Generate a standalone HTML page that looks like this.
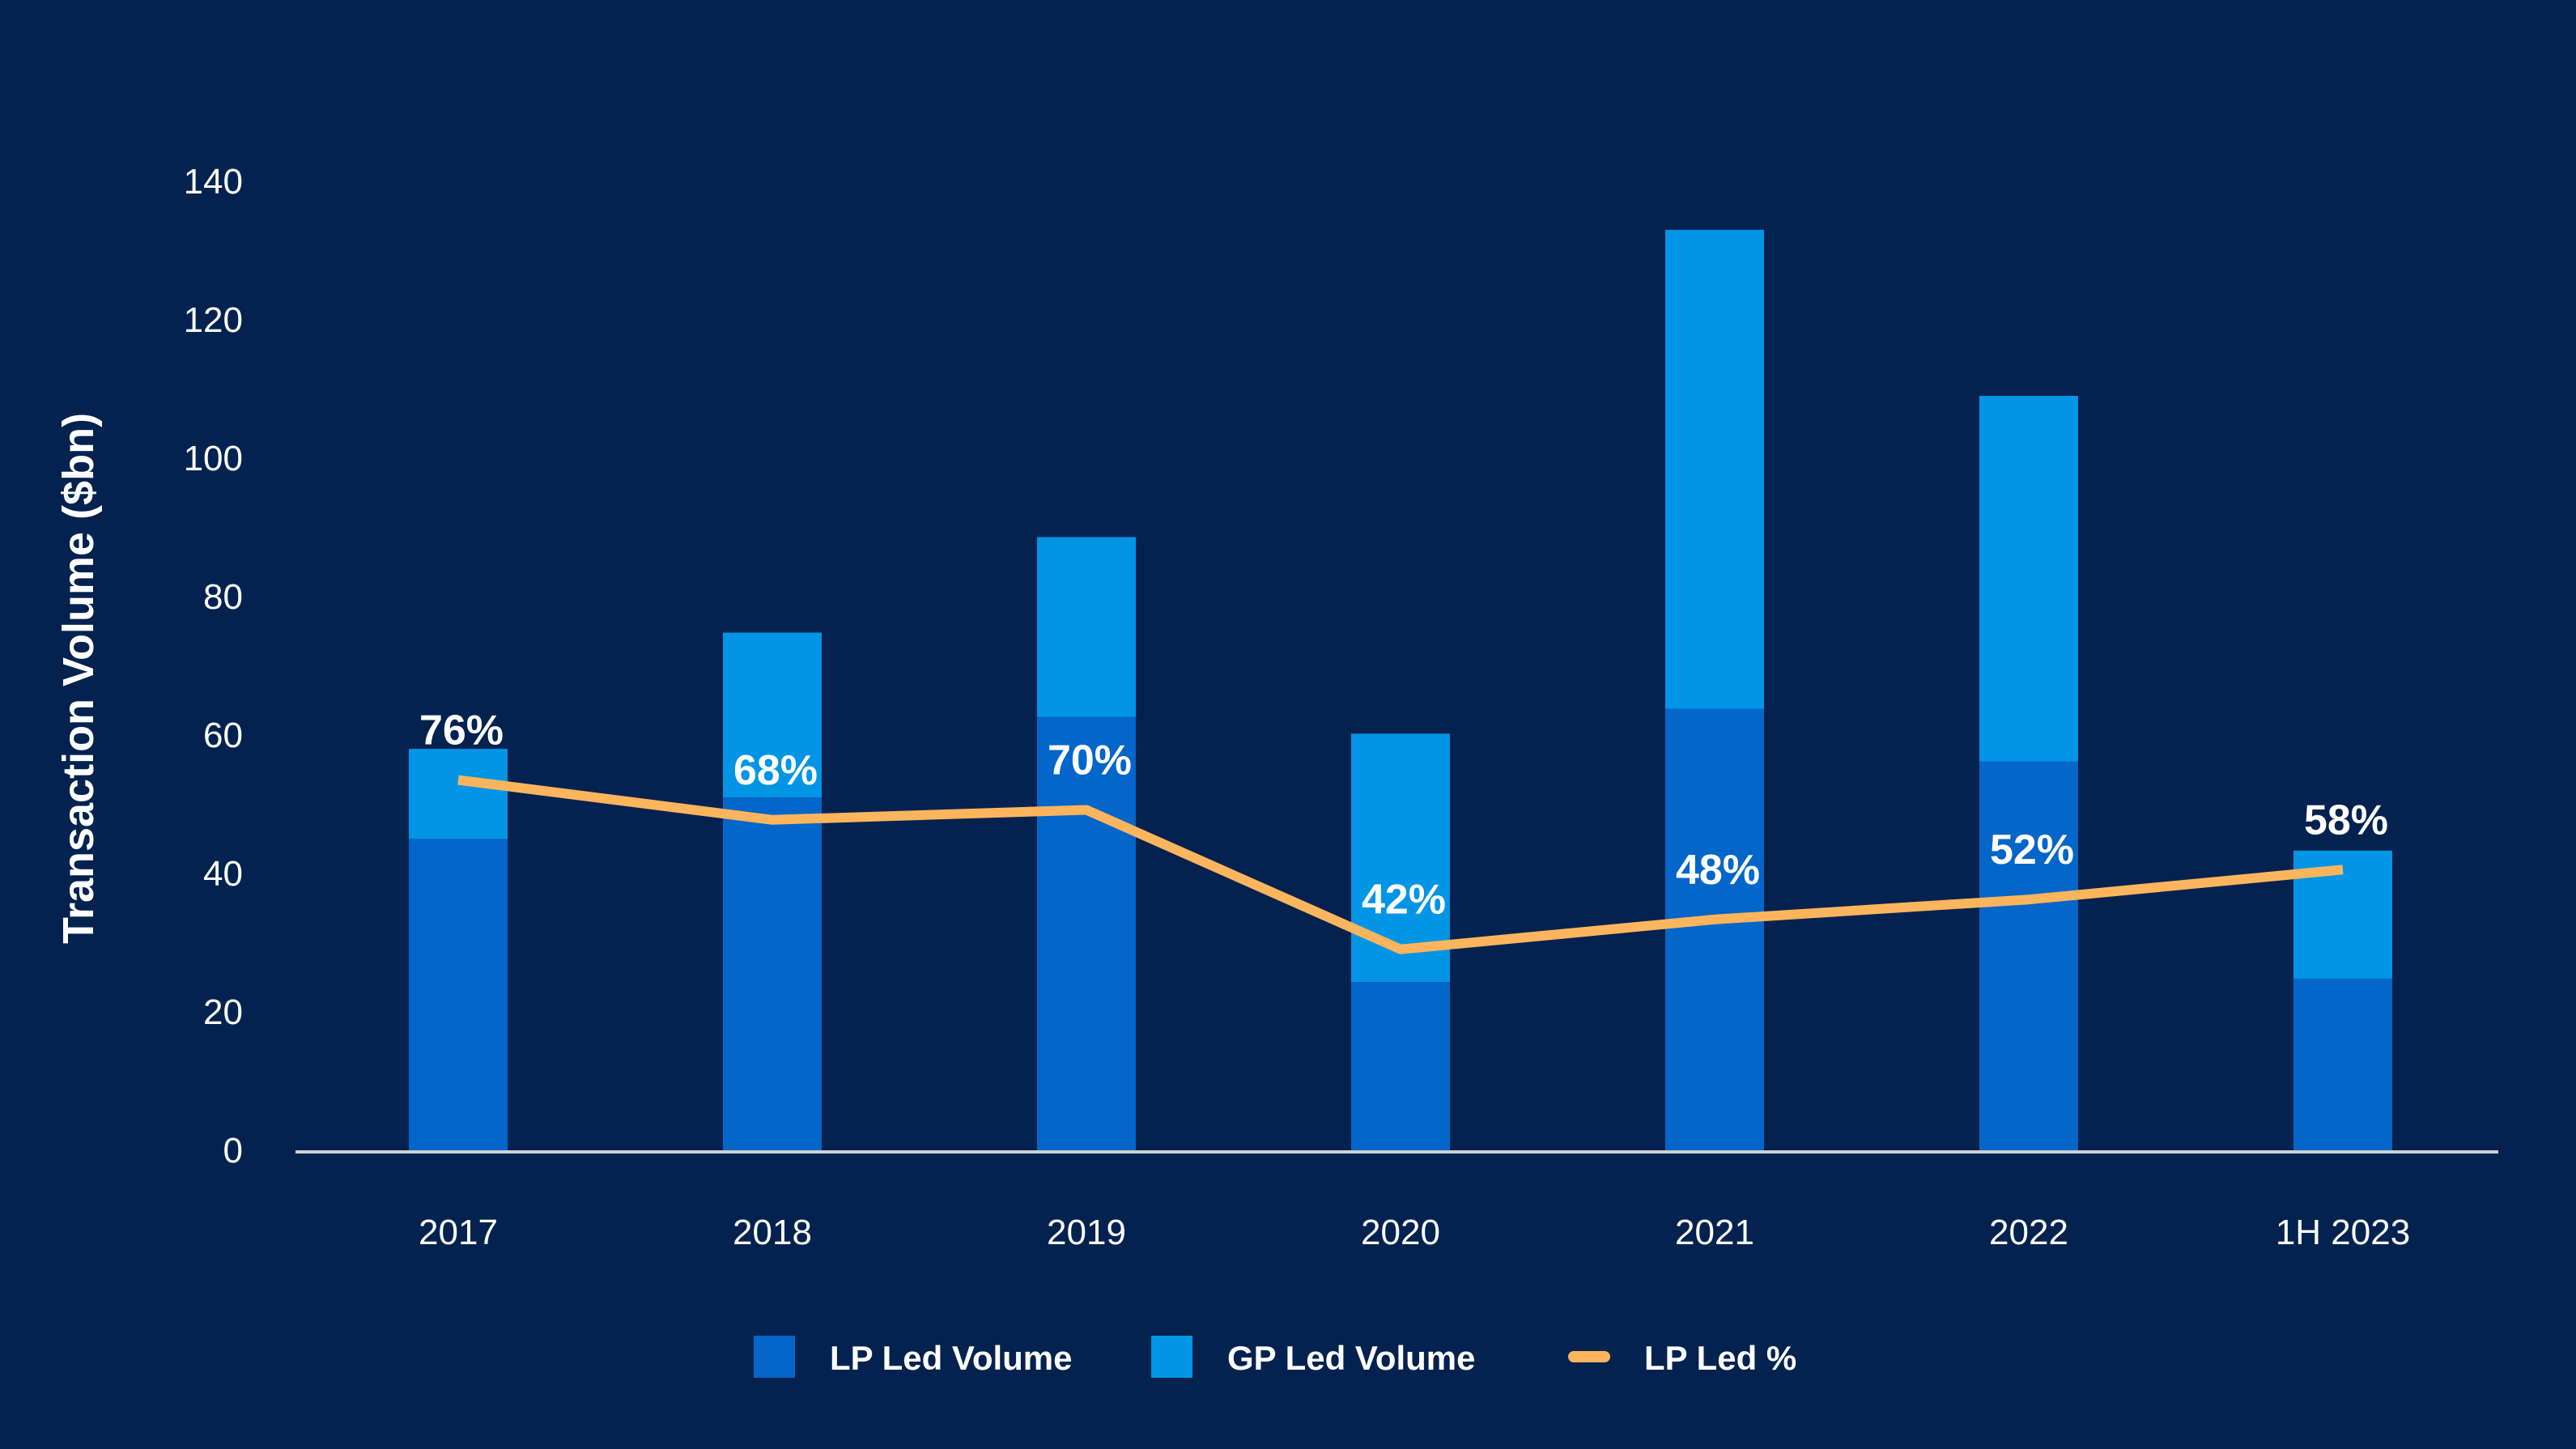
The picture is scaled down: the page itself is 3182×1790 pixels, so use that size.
<!DOCTYPE html>
<html><head><meta charset="utf-8"><style>
html,body{margin:0;padding:0;background:#03224f;}
svg{display:block;font-family:"Liberation Sans",sans-serif;}
</style></head><body>
<svg id="chart" width="3182" height="1790" viewBox="0 0 3182 1790">
<rect width="3182" height="1790" fill="#03224f"/>
<text x="0" y="0" transform="translate(115,838) rotate(-90)" text-anchor="middle" fill="#fff" font-size="54" font-weight="bold">Transaction Volume ($bn)</text>
<g id="yticks"></g><g id="bars"></g><g id="xlabels"></g><g id="line"></g>
<line x1="365" y1="1423" x2="3086" y2="1423" stroke="#d0d0d0" stroke-width="4"/>
<g>
<g><rect x="931" y="1650" width="51" height="52" fill="#0366c8"/><text x="1025" y="1692" fill="#fff" font-size="42" font-weight="bold">LP Led Volume</text></g>
<g><rect x="1422" y="1650" width="51" height="52" fill="#0295e5"/><text x="1516" y="1692" fill="#fff" font-size="42" font-weight="bold">GP Led Volume</text></g>
<g><line x1="1944" y1="1676" x2="1982" y2="1676" stroke="#fdb55d" stroke-width="14" stroke-linecap="round"/><text x="2031" y="1692" fill="#fff" font-size="42" font-weight="bold">LP Led %</text></g>
</g>
</svg>
<script>
const categories = ["2017","2018","2019","2020","2021","2022","1H 2023"];
const lpVolume = [45, 51, 62.6, 24.3, 63.8, 56.2, 24.8];
const gpVolume = [13, 23.8, 26, 35.9, 69.2, 52.8, 18.5];
const lpPct = [76, 68, 70, 42, 48, 52, 58];
const pctLabels = ["76%","68%","70%","42%","48%","52%","58%"];
const yTicks = [0, 20, 40, 60, 80, 100, 120, 140];

const NS = "http://www.w3.org/2000/svg";
const y0 = 1421, pxPerUnit = 171/20;
const yScale = v => y0 - v * pxPerUnit;
const pctScale = p => 1431 - p * 6.15;
const bandStart = 372, band = 388;
const xCenter = i => bandStart + (i + 0.5) * band;
const barW = 122;
function mk(tag, attrs, parent) {
  const e = document.createElementNS(NS, tag);
  for (const k in attrs) e.setAttribute(k, attrs[k]);
  parent.appendChild(e);
  return e;
}
const gy = document.getElementById('yticks');
yTicks.forEach(t => {
  const e = mk('text', {x: 300, y: yScale(t) + 15, 'text-anchor': 'end', fill: '#fff', 'font-size': 44}, gy);
  
  
  e.textContent = t;
});
const gb = document.getElementById('bars');
const gx = document.getElementById('xlabels');
categories.forEach((c, i) => {
  const x = xCenter(i) - barW / 2;
  const lp = mk('rect', {x: x, y: yScale(lpVolume[i]), width: barW, height: yScale(0) - yScale(lpVolume[i]) + 2, fill: '#0366c8'}, gb);
  
  
  const tot = lpVolume[i] + gpVolume[i];
  const gp = mk('rect', {x: x, y: yScale(tot), width: barW, height: yScale(lpVolume[i]) - yScale(tot), fill: '#0295e5'}, gb);
  
  
  const t = mk('text', {x: xCenter(i), y: 1537, 'text-anchor': 'middle', fill: '#fff', 'font-size': 44}, gx);
  
  
  t.textContent = c;
});
const gl = document.getElementById('line');
const pts = lpPct.map((p, i) => xCenter(i) + ',' + pctScale(p)).join(' ');
const pl = mk('polyline', {points: pts, fill: 'none', stroke: '#fdb55d', 'stroke-width': 12, 'stroke-linejoin': 'round'}, gl);


lpPct.forEach((p, i) => {
  const t = mk('text', {x: xCenter(i) + 4, y: pctScale(p) - 44, 'text-anchor': 'middle', fill: '#fff', 'font-size': 52, 'font-weight': 'bold'}, gl);
  
  
  t.textContent = pctLabels[i];
});
</script>
</body></html>
